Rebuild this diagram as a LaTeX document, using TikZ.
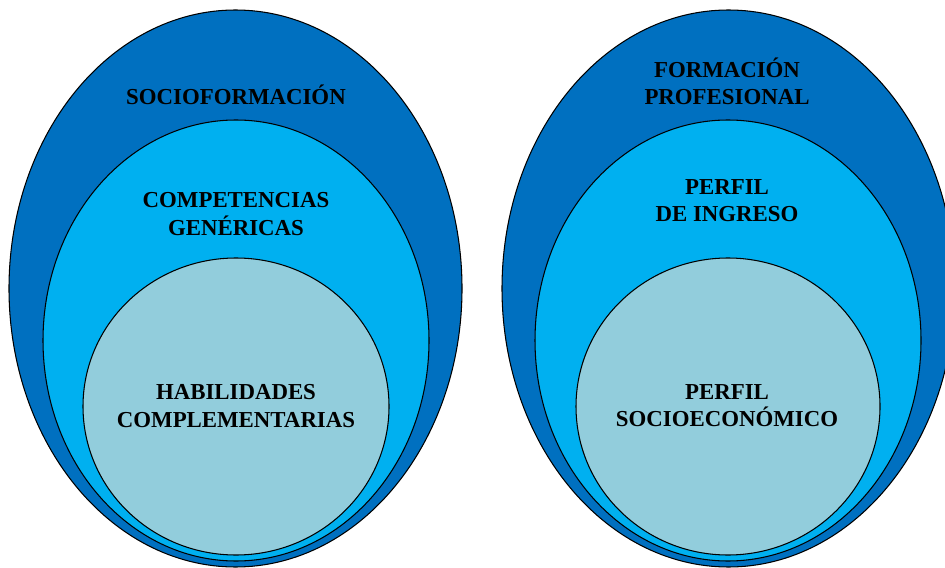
\documentclass[tikz,border=0pt]{standalone}
\usepackage{fontspec}
\setmainfont{Liberation Serif}
\usepackage{tikz}
\usetikzlibrary{shapes.geometric}
\definecolor{darkblue}{HTML}{0070C0}
\definecolor{midblue}{HTML}{00B0F0}
\definecolor{lightblue}{HTML}{92CDDC}
\tikzset{
	outerstyle/.style={draw=black,line width=0.6pt,fill=darkblue},
	middlestyle/.style={draw=black,line width=0.6pt,fill=midblue},
	innerstyle/.style={draw=black,line width=0.6pt,fill=lightblue},
	labelstyle/.style={align=center,font=\bfseries\fontsize{13}{15.5}\selectfont,inner sep=0pt}
}
\begin{document}
\begin{tikzpicture}[x=0.02cm,y=-0.02cm]
		\useasboundingbox (0,0) rectangle (945,567);
		% left set
		\draw[outerstyle] (235.5,288.5) ellipse [x radius=226.5,y radius=278.5];
		\draw[middlestyle] (236,340.5) ellipse [x radius=193,y radius=220.5];
		\draw[innerstyle] (236,406.5) ellipse [x radius=153,y radius=148.5];
		\node[labelstyle] (socio) at (236,95) {SOCIOFORMACIÓN};
		\node[labelstyle] (comp) at (236,214) {COMPETENCIAS\\GENÉRICAS};
		\node[labelstyle] (habil) at (236,406) {HABILIDADES\\COMPLEMENTARIAS};
		% right set
		\draw[outerstyle] (728.5,288.5) ellipse [x radius=226.5,y radius=278.5];
		\draw[middlestyle] (728,340.5) ellipse [x radius=193,y radius=220.5];
		\draw[innerstyle] (728,406.5) ellipse [x radius=152,y radius=148.5];
		\node[labelstyle] (form) at (727,81) {FORMACIÓN\\PROFESIONAL};
		\node[labelstyle] (ingreso) at (727,201) {PERFIL\\DE INGRESO};
		\node[labelstyle] (socioec) at (727,406) {PERFIL\\SOCIOECONÓMICO};
		\end{tikzpicture}
\end{document}
